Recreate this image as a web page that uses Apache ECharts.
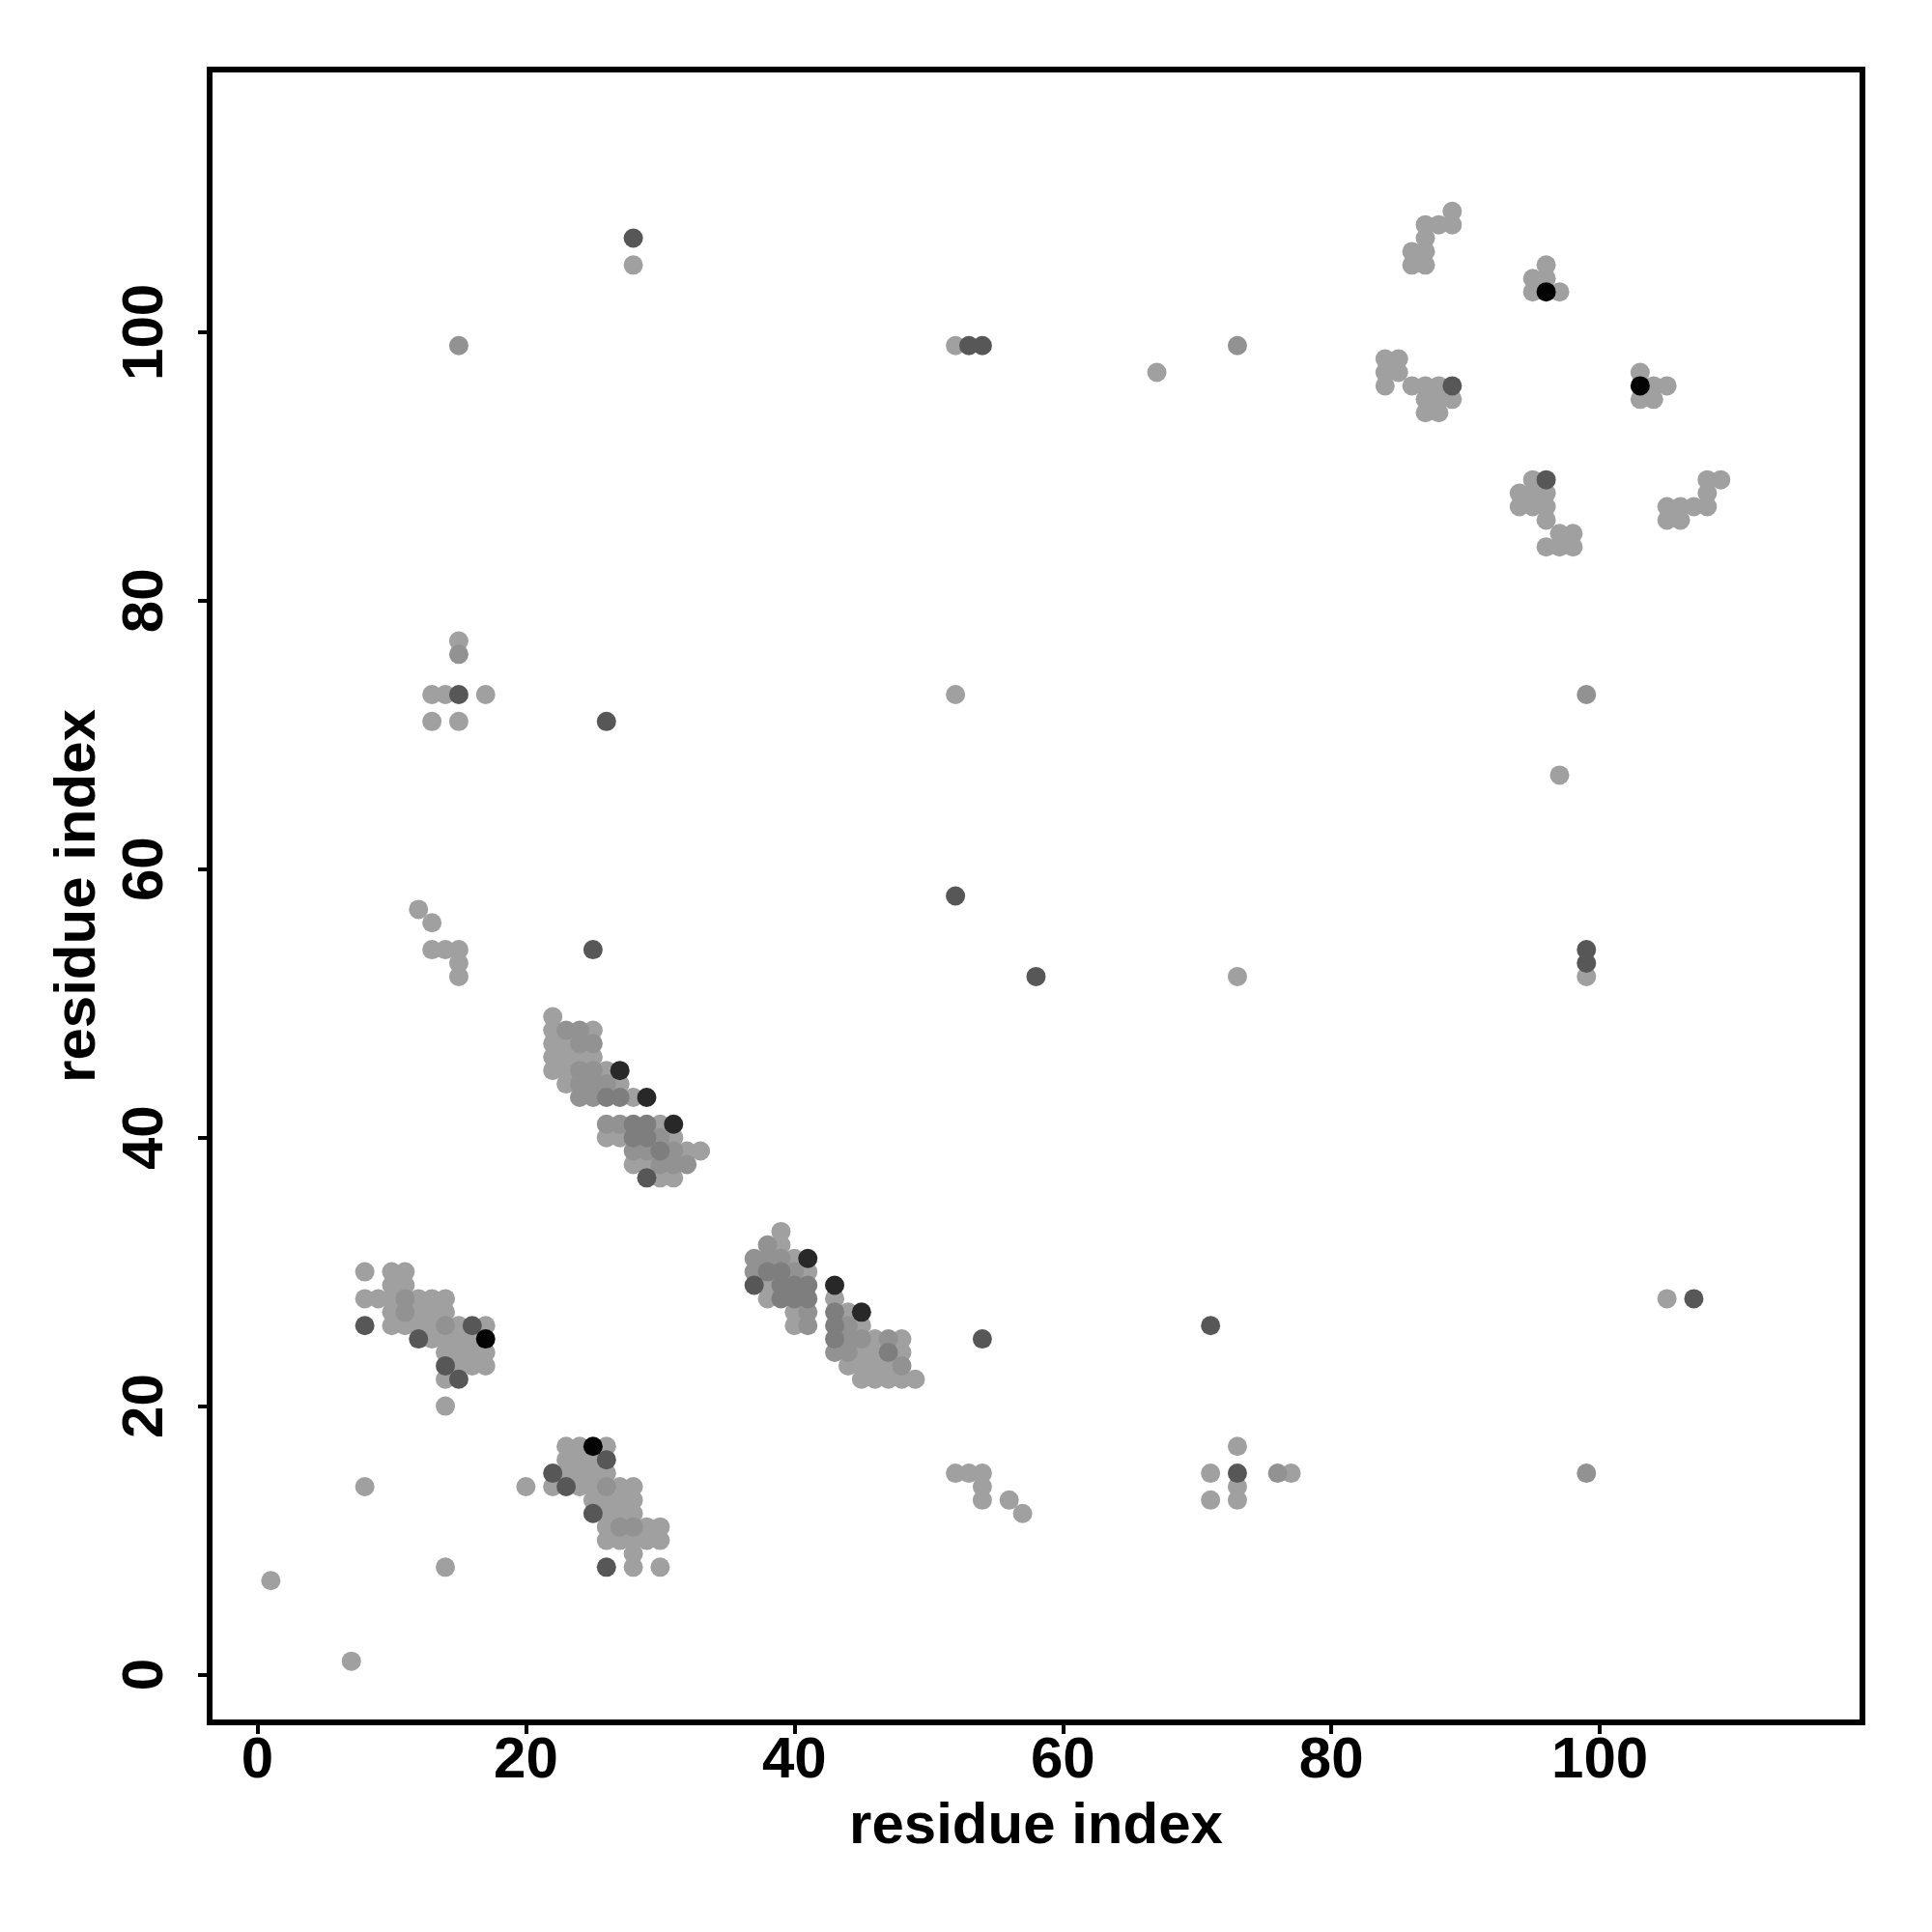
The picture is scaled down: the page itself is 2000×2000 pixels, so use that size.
<!DOCTYPE html>
<html>
<head>
<meta charset="utf-8">
<script src="https://cdn.jsdelivr.net/npm/echarts@6/dist/echarts.min.js"></script>
<style>
html,body{margin:0;padding:0;background:#fff;}
#chart{width:2000px;height:2000px;}
</style>
</head>
<body>
<div id="chart"></div>
<script>
// tick labels
const tickValues = [0, 20, 40, 60, 80, 100];
const axisTitle = 'residue index';

// contact pairs [residue i, residue j], grouped by shade
const pointsLight = [
  [8,30],[10,30],[11,30],[10,29],[11,29],[8,28],[9,28],[10,28],[12,28],[13,28],[14,28],
  [10,27],[12,27],[13,27],[14,27],[10,26],[11,26],[12,26],[13,26],[15,26],[17,26],
  [13,25],[14,25],[15,25],[16,25],[14,24],[15,24],[16,24],[17,24],[15,23],[16,23],[17,23],
  [14,22],[14,20],
  [23,17],[24,17],[26,17],[23,16],[24,16],[25,16],[23,15],[24,15],[25,15],[26,15],
  [20,14],[22,14],[24,14],[25,14],[27,14],[28,14],[25,13],[26,13],[27,13],[28,13],
  [26,12],[27,12],[28,12],[26,11],[29,11],[30,11],[26,10],[27,10],[28,10],[29,10],[30,10],
  [28,9],[28,8],[30,8],
  [22,49],[22,48],[25,48],[22,47],[23,47],[22,46],[23,46],[24,46],[25,46],
  [22,45],[23,45],[26,45],[23,44],[27,44],[28,43],[30,41],[26,40],[27,40],[31,40],
  [32,39],[33,39],[28,38],[29,38],[30,37],[31,37],
  [39,33],[39,32],[40,31],[41,30],[38,29],[38,28],[43,28],[40,27],[44,27],[40,26],[45,26],
  [46,25],[48,25],[45,24],[46,24],[48,24],[44,23],[45,23],[46,23],[47,23],
  [45,22],[46,22],[47,22],[48,22],[49,22],
  [89,109],[87,108],[88,108],[89,108],[87,107],[86,106],[87,106],[86,105],[87,105],
  [84,98],[85,98],[84,97],[85,97],[84,96],[86,96],[87,96],[88,96],[87,95],[88,95],[89,95],
  [87,94],[88,94],
  [96,105],[95,104],[96,104],[95,103],[97,103],
  [103,97],[104,96],[105,96],[103,95],[104,95],
  [95,89],[94,88],[95,88],[96,88],[94,87],[95,87],[96,87],[96,86],[97,85],[98,85],
  [96,84],[97,84],[98,84],
  [108,89],[109,89],[108,88],[105,87],[106,87],[107,87],[108,87],[105,86],[106,86],
  [1,7],[7,1],[8,14],[14,8],[28,105],[15,77],[13,73],[14,73],[17,73],[13,71],[15,71],
  [12,57],[13,56],[13,54],[14,54],[15,54],[15,53],[15,52],[52,99],[67,97],[52,73],
  [73,52],[97,67],[99,52],[105,28],[52,15],[53,15],[54,15],[54,14],[54,13],[56,13],
  [57,12],[71,15],[71,13],[73,17],[73,14],[73,13],[77,15]
];
const pointsMid = [
  [11,28],[11,27],[14,26],[26,14],[27,11],[28,11],
  [23,48],[24,48],[24,47],[25,47],[24,45],[25,45],[24,44],[25,44],[26,44],
  [24,43],[25,43],[26,41],[27,41],[30,40],[28,39],[29,39],[31,39],[30,38],[31,38],[32,38],
  [38,32],[37,31],[38,31],[39,31],[37,30],[40,30],[41,27],[41,26],[44,26],
  [44,25],[45,25],[47,25],[43,24],[44,24],[48,23],
  [15,99],[73,99],[99,73],[99,15],[15,76],[76,15]
];
const pointsDeep = [
  [26,43],[27,43],[28,41],[29,41],[28,40],[29,40],[30,39],
  [38,30],[39,30],[39,29],[40,29],[41,29],[39,28],[40,28],[41,28],[43,27],[43,26],
  [43,25],[47,24]
];
const pointsDark = [
  [8,26],[16,26],[12,25],[14,23],[15,22],
  [26,16],[22,15],[23,14],[25,12],[26,8],
  [29,37],[37,29],[89,96],[96,89],
  [28,107],[53,99],[54,99],[15,73],[26,71],[25,54],[52,58],[58,52],[99,54],[99,53],
  [54,25],[71,26],[107,28],[73,15]
];
const pointsDarker = [
  [27,45],[29,43],[31,41],[41,31],[43,29],[45,27]
];
const pointsBlack = [
  [17,25],[25,17],[96,103],[103,96]
];

const FONT = 'Liberation Sans, Arial, Helvetica, sans-serif';
const labelStyle = {fontSize: 60, fontWeight: 'bold', color: '#000', fontFamily: FONT};

function axis(isY) {
  return {
    type: 'value',
    min: -3.56,
    max: 119.56,
    axisLine: {show: false, onZero: false},
    splitLine: {show: false},
    axisTick: {show: true, length: 12, inside: false, customValues: tickValues,
               lineStyle: {color: '#000', width: 4}},
    axisLabel: Object.assign({customValues: tickValues, margin: isY ? 36 : 10,
                              rotate: isY ? 90 : 0}, labelStyle),
    name: axisTitle,
    nameLocation: 'middle',
    nameGap: isY ? 106 : 78,
    nameTextStyle: Object.assign({}, labelStyle)
  };
}

function scatter(data, color) {
  return {
    type: 'scatter',
    data: data,
    symbol: 'circle',
    symbolSize: 20,
    itemStyle: {color: color, opacity: 1},
    silent: true,
    animation: false
  };
}

const chart = echarts.init(document.getElementById('chart'), null, {renderer: 'canvas'});
chart.setOption({
  backgroundColor: '#fff',
  animation: false,
  grid: {left: 217, right: 72, top: 72, bottom: 217, show: true,
         borderColor: '#000', borderWidth: 6, backgroundColor: 'transparent'},
  xAxis: axis(false),
  yAxis: axis(true),
  series: [
    scatter(pointsLight, '#a0a0a0'),
    scatter(pointsMid, '#929292'),
    scatter(pointsDeep, '#7e7e7e'),
    scatter(pointsDark, '#575757'),
    scatter(pointsDarker, '#282828'),
    scatter(pointsBlack, '#030303')
  ]
});
</script>
</body>
</html>
